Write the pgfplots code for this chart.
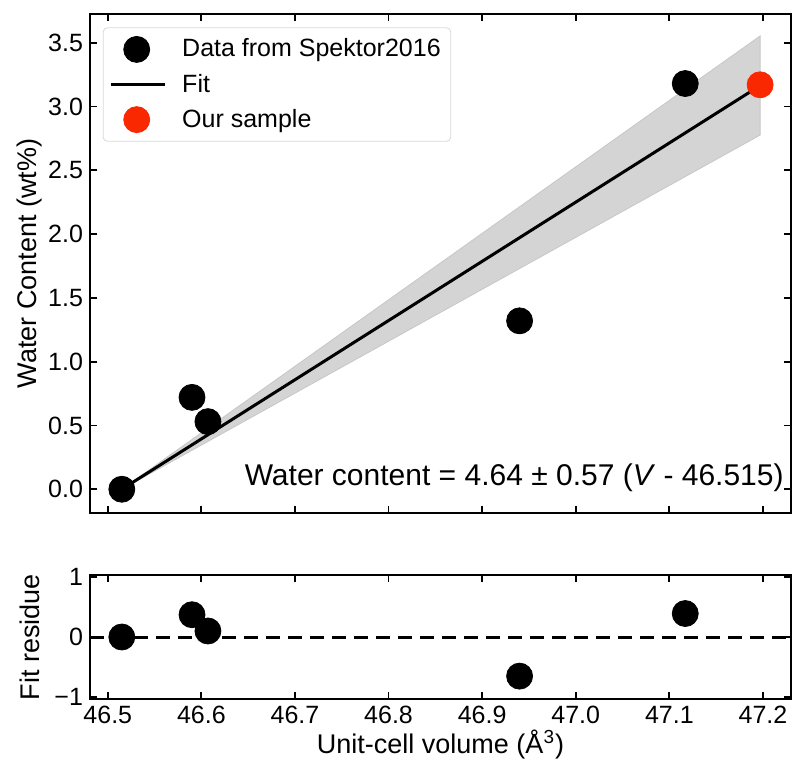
\documentclass[border=0pt]{standalone}
\usepackage{fontspec}
\setmainfont{Liberation Sans}
\usepackage{pgfplots}
\pgfplotsset{compat=1.18}
\definecolor{oursred}{RGB}{250,40,0}
\definecolor{bandgray}{RGB}{212,212,212}

\pgfplotsset{
  common/.style={
    scale only axis,
    width=350.5pt,
    xmin=46.481, xmax=47.230,
    axis line style={line width=1pt},
    tick style={line width=0.9pt, black},
    major tick length=3.5pt,
    tick pos=both,
    tick align=inside,
    xtick={46.5,46.6,...,47.25},
    ticklabel style={font=\fontsize{12.5}{14}\selectfont},
    /pgf/number format/assume math mode=true,
    every axis x label/.style={at={(axis description cs:0.5,-0.37)},anchor=center,font=\fontsize{13.5}{15}\selectfont},
    every axis y label/.style={at={(axis description cs:-0.0856,0.5)},rotate=90,anchor=center,font=\fontsize{13.5}{15}\selectfont},
  },
  datapt/.style={only marks, mark=*, mark size=6.5pt, black, mark options={fill=black, draw=black}},
  markleg/.style={legend image code/.code={\draw[##1] plot coordinates {(13pt,0pt)};}},
  lineleg/.style={legend image code/.code={\draw[##1] (0pt,0pt) -- (27pt,0pt);}},
}

\begin{document}
\begin{tikzpicture}
% top panel: data and fit
\begin{axis}[common,
  name=top,
  at={(0,93.2pt)},
  height=249.3pt,
  ymin=-0.183, ymax=3.725,
  ytick={0,0.5,...,3.6},
  xticklabels={},
  yticklabel style={/pgf/number format/.cd, fixed, fixed zerofill, precision=1},
  ylabel={Water Content (wt\%)},
  legend style={at={(axis description cs:0.0183,0.973)}, anchor=north west,
    draw=black!15, rounded corners=2pt, font=\fontsize{12.5}{14}\selectfont,
    nodes={inner ysep=1.5pt}, row sep=4pt, column sep=6pt, inner xsep=3pt, inner ysep=4pt},
  legend cell align=left,
]
\addplot[fill=bandgray, draw=black!22, forget plot] coordinates {
  (46.515,0) (47.197,3.553) (47.197,2.776) (46.515,0)};
\addplot[datapt, markleg] coordinates {
  (46.515,0.0) (46.590,0.72) (46.607,0.53) (46.940,1.32) (47.117,3.18)};
\addlegendentry{Data from Spektor2016}
\addplot[black, line width=1.5pt, lineleg] coordinates {
  (46.515,0) (47.197,3.164)};
\addlegendentry{Fit}
\addplot[only marks, mark=*, mark size=6.5pt, color=oursred, mark options={fill=oursred, draw=oursred}, markleg] coordinates {
  (47.197,3.17)};
\addlegendentry{Our sample}
\node[anchor=east, font=\fontsize{15}{17}\selectfont, inner sep=0pt] at (rel axis cs:0.99,0.07)
  {Water content = 4.64 ± 0.57 (\textit{V} - 46.515)};
\end{axis}

% bottom panel: residuals
\begin{axis}[common,
  name=bot,
  at={(0,0)},
  height=62pt,
  ymin=-1.03, ymax=1.03,
  ytick={-1,0,1},
  yticklabels={−1,0,1},
  xticklabel style={/pgf/number format/.cd, fixed, fixed zerofill, precision=1},
  ylabel={Fit residue},
  xlabel={Unit-cell volume (Å\textsuperscript{3})},
]
\addplot[black, line width=1.5pt, dash pattern=on 7pt off 4pt] coordinates {(46.481,0) (47.230,0)};
\addplot[datapt] coordinates {
  (46.515,0.0) (46.590,0.37) (46.607,0.10) (46.940,-0.65) (47.117,0.39)};
\end{axis}
\pgfresetboundingbox
\path[use as bounding box] (-45pt,-36pt) rectangle (351pt,349.5pt);
\end{tikzpicture}
\end{document}
